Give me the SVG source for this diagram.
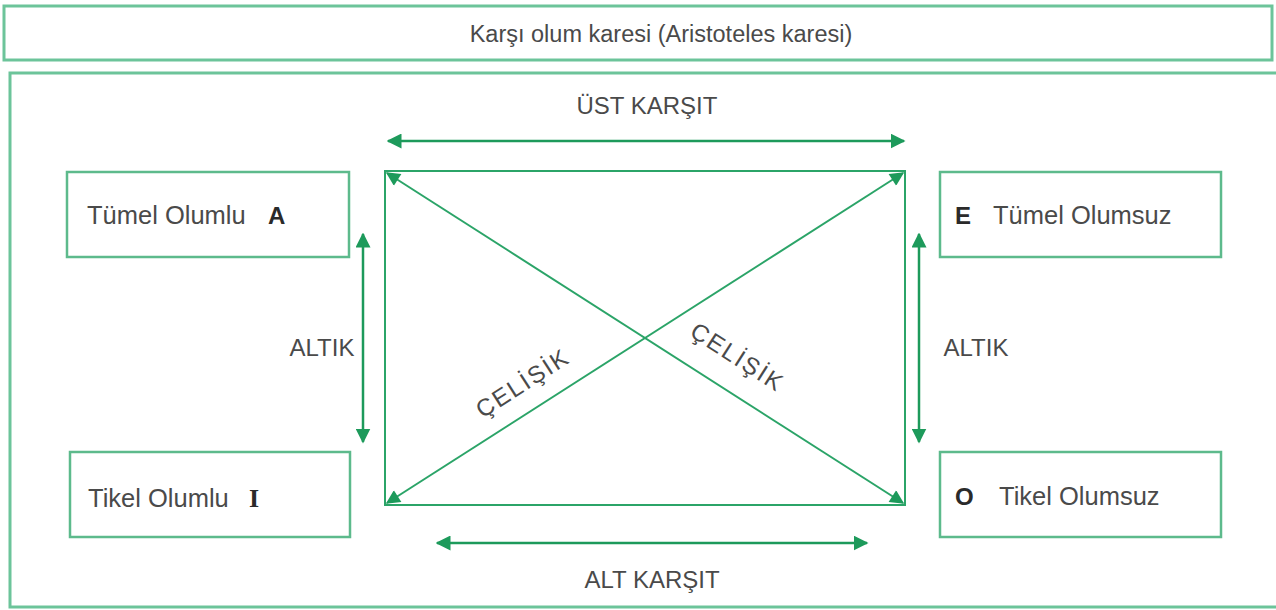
<svg xmlns="http://www.w3.org/2000/svg" width="1276" height="610" viewBox="0 0 1276 610">
<style>
.box{fill:#fff;stroke:#5dba8c;stroke-width:2.5}
.frame{fill:none;stroke:#6cc49a;stroke-width:3}
.ln{stroke:#1d9a5b;stroke-width:2.5;fill:none}
.ln2{stroke:#2ba468;stroke-width:2;fill:none}
.t{font-family:"Liberation Sans","DejaVu Sans",sans-serif;font-size:25.5px;fill:#4a4a4a}
.c{font-family:"Liberation Sans","DejaVu Sans",sans-serif;font-size:24px;fill:#4a4a4a}
.b{font-family:"Liberation Sans","DejaVu Sans",sans-serif;font-size:24px;font-weight:bold;fill:#2a2a2a}
</style>
<defs>
<marker id="ah" viewBox="0 0 10 10" refX="9" refY="5" markerWidth="6" markerHeight="6" orient="auto-start-reverse" markerUnits="strokeWidth">
<path d="M0,0 L10,5 L0,10 Z" fill="#1d9a5b"/>
</marker>
<marker id="ah2" viewBox="0 0 10 10" refX="9" refY="5" markerWidth="8" markerHeight="7" orient="auto-start-reverse" markerUnits="strokeWidth">
<path d="M0,0 L10,5 L0,10 Z" fill="#1d9a5b"/>
</marker>
</defs>
<rect width="1276" height="610" fill="#fff"/>
<g id="title">
<rect class="frame" x="4" y="6" width="1268" height="54"/>
<text class="t" x="661" y="42" text-anchor="middle" style="font-size:23.5px">Karşı olum karesi (Aristoteles karesi)</text>
</g>
<rect id="outer" class="frame" x="10" y="73" width="1280" height="534"/>
<g id="square">
<rect class="ln2" x="385" y="171" width="520" height="334"/>
</g>
<g id="A">
<rect class="box" x="67" y="172" width="282" height="85"/>
<text class="t" x="87" y="224">Tümel Olumlu</text>
<text class="b" x="268" y="224">A</text>
</g>
<g id="I">
<rect class="box" x="70" y="452" width="280" height="85"/>
<text class="t" x="88" y="507">Tikel Olumlu</text>
<text class="b" x="249" y="507" style="font-family:'Liberation Serif',serif;font-size:26px">I</text>
</g>
<g id="E">
<rect class="box" x="940" y="172" width="281" height="85"/>
<text class="b" x="955" y="224">E</text>
<text class="t" x="993" y="224">Tümel Olumsuz</text>
</g>
<g id="O">
<rect class="box" x="940" y="452" width="281" height="85"/>
<text class="b" x="955" y="505">O</text>
<text class="t" x="999" y="505">Tikel Olumsuz</text>
</g>
<g id="connectors">
<line class="ln" x1="388" y1="141" x2="904" y2="141" marker-start="url(#ah)" marker-end="url(#ah)"/>
<line class="ln" x1="437" y1="543" x2="867" y2="543" marker-start="url(#ah)" marker-end="url(#ah)"/>
<line class="ln" x1="363" y1="234" x2="363" y2="442" marker-start="url(#ah)" marker-end="url(#ah)"/>
<line class="ln" x1="919" y1="234" x2="919" y2="442" marker-start="url(#ah)" marker-end="url(#ah)"/>
<line class="ln2" x1="387" y1="173" x2="903" y2="503" marker-start="url(#ah2)" marker-end="url(#ah2)"/>
<line class="ln2" x1="387" y1="503" x2="903" y2="173" marker-start="url(#ah2)" marker-end="url(#ah2)"/>
</g>
<g id="labels">
<text class="c" x="647" y="114" text-anchor="middle">ÜST KARŞIT</text>
<text class="c" x="652" y="588" text-anchor="middle">ALT KARŞIT</text>
<text class="c" x="322" y="356" text-anchor="middle">ALTIK</text>
<text class="c" x="976" y="356" text-anchor="middle">ALTIK</text>
<text class="c" x="0" y="0" text-anchor="middle" transform="translate(527,390) rotate(-32.7)" letter-spacing="2">ÇELİŞİK</text>
<text class="c" x="0" y="0" text-anchor="middle" transform="translate(733,364) rotate(32.7)" letter-spacing="2">ÇELİŞİK</text>
</g>
</svg>
